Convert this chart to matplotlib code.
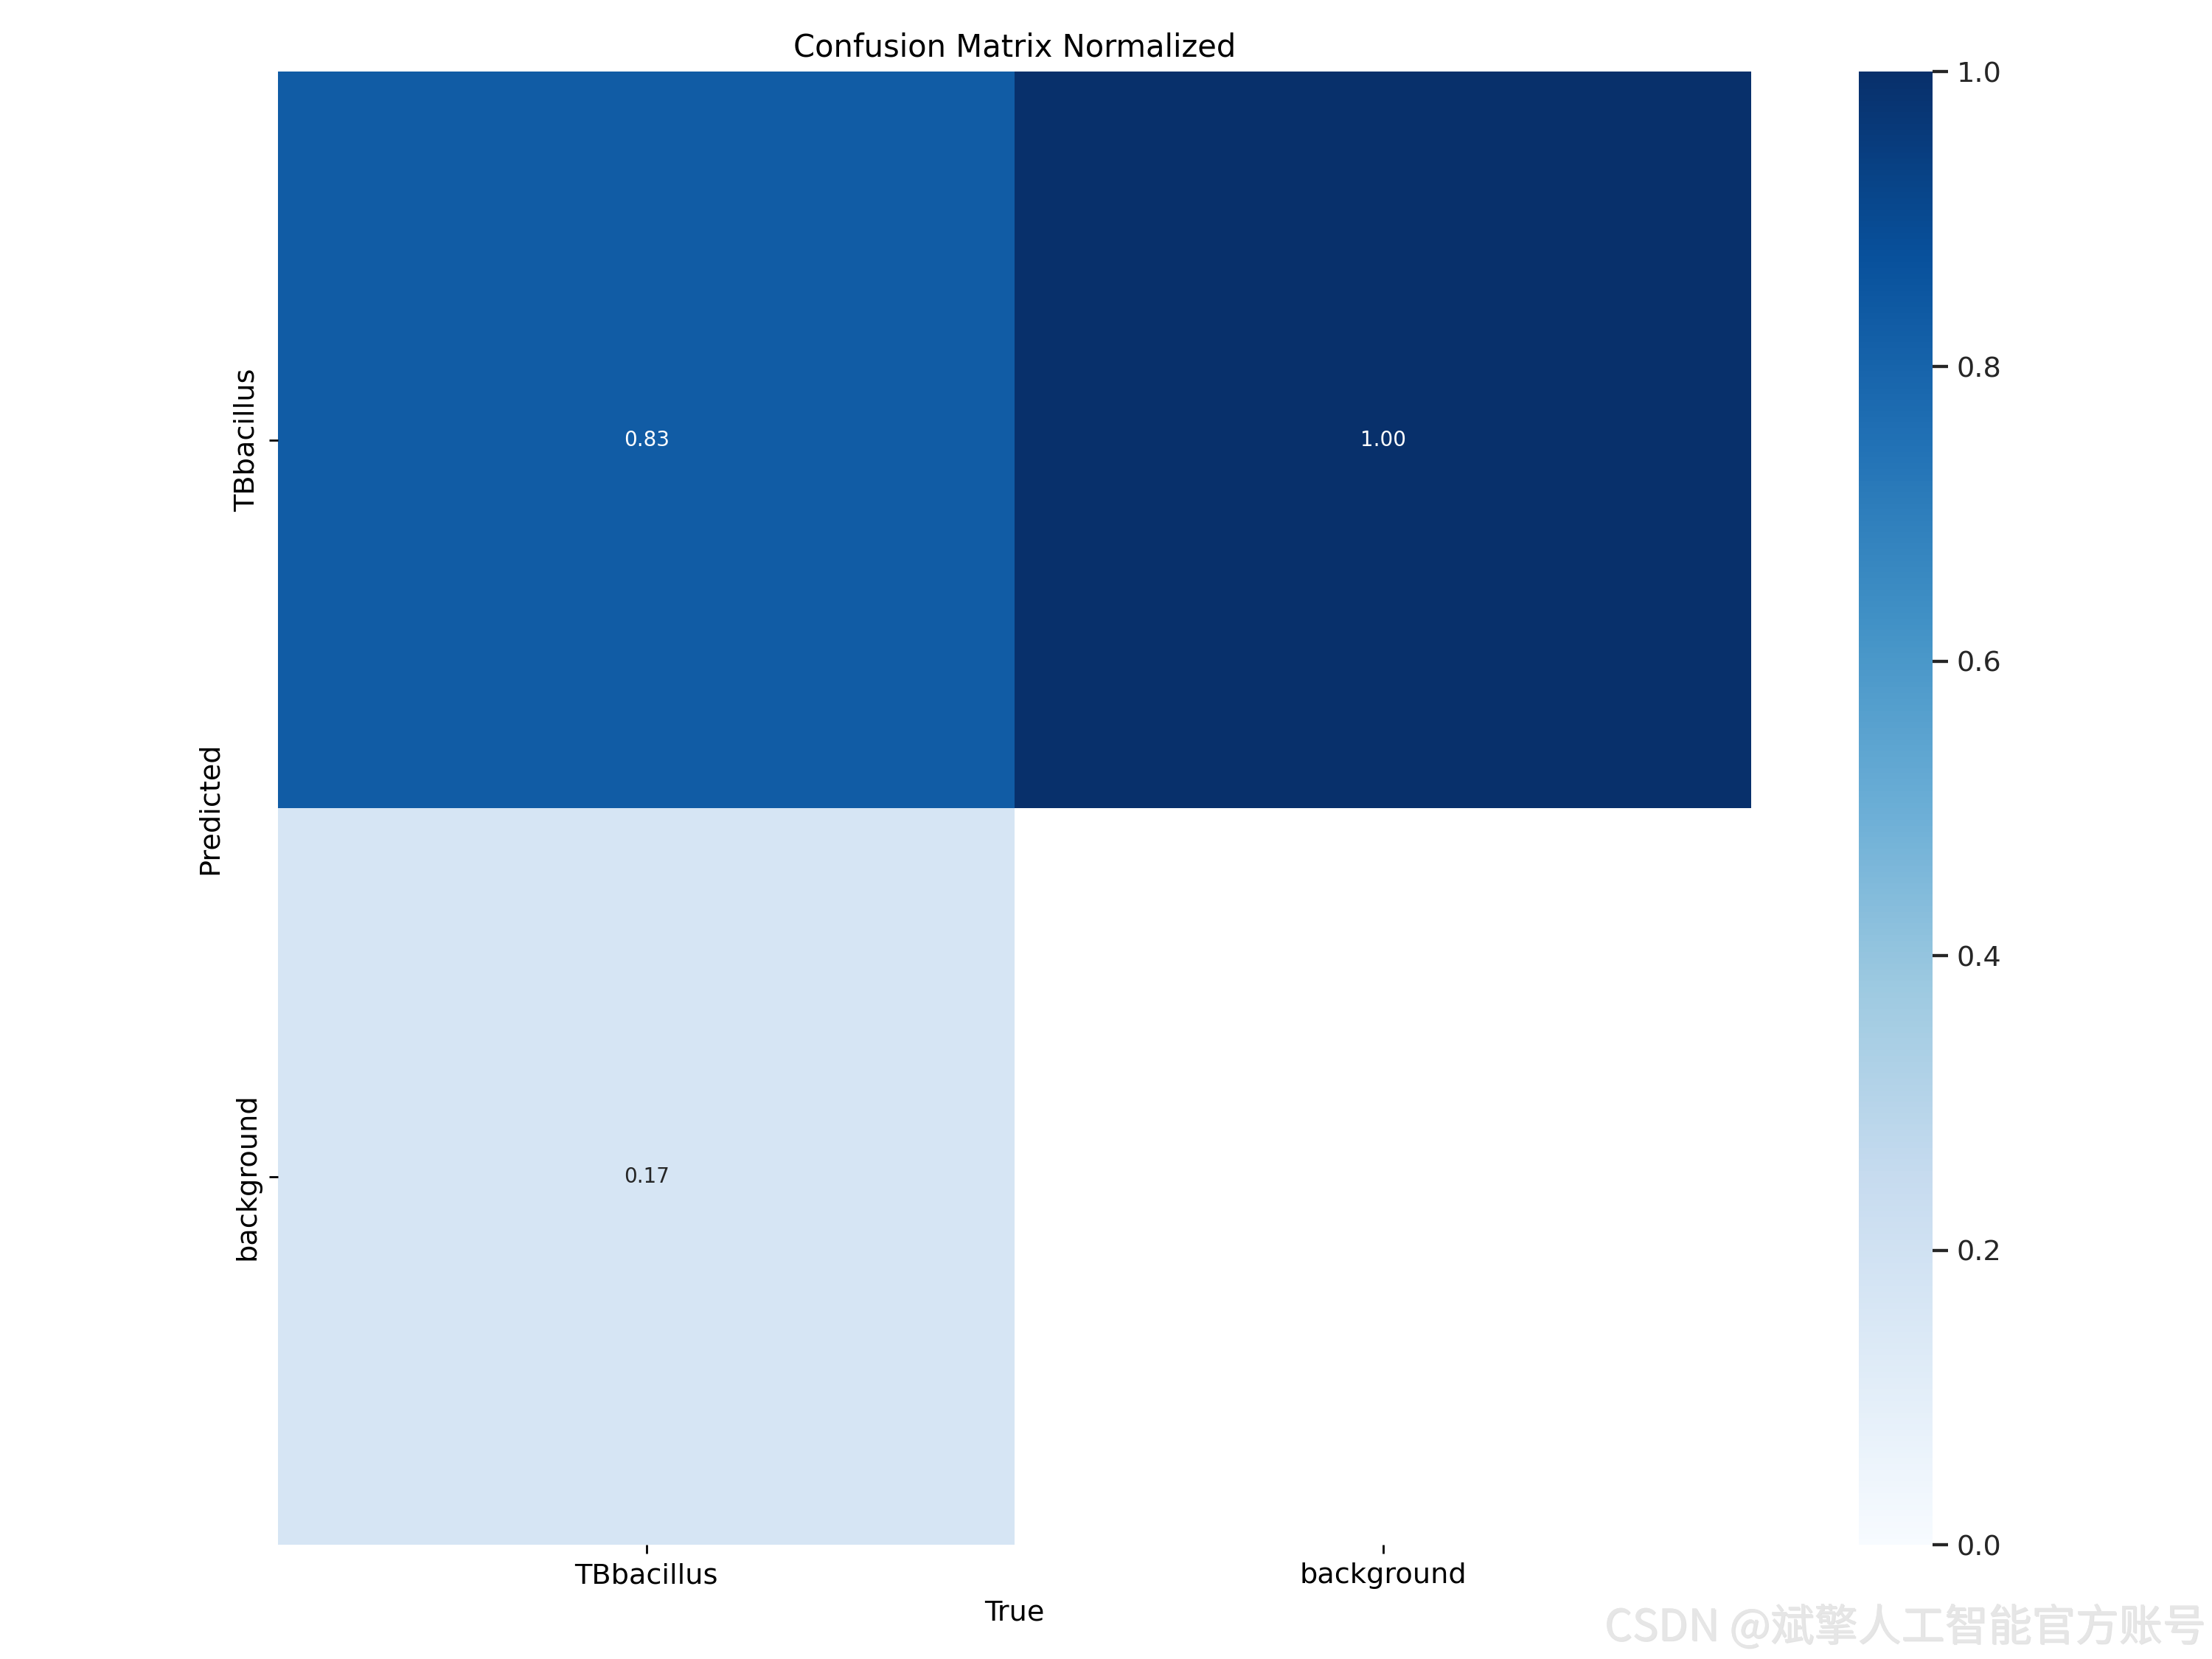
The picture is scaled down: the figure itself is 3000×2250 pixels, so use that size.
import numpy as np
import matplotlib
matplotlib.use("Agg")
import matplotlib.pyplot as plt
import matplotlib.patheffects as pe
import seaborn as sns

names = ["TBbacillus", "background"]
# rows: Predicted, columns: True
matrix = np.array([[0.83, 1.00],
                   [0.17, 0.00]])

array = matrix.copy()
array[array < 0.005] = np.nan

plt.rcParams["xtick.labelsize"] = 11
plt.rcParams["ytick.labelsize"] = 11

fig, ax = plt.subplots(1, 1, figsize=(12, 9))
sns.heatmap(array, ax=ax, annot=True, annot_kws={"size": 8}, cmap="Blues",
            fmt=".2f", square=True, vmin=0.0, vmax=1.0,
            xticklabels=names, yticklabels=names).set_facecolor((1, 1, 1))
ax.set_xlabel("True", fontsize=11)
ax.set_ylabel("Predicted", fontsize=11)
ax.set_title("Confusion Matrix Normalized", fontsize=12)

cbar = ax.collections[0].colorbar
cbar.ax.tick_params(length=6, width=1.25, color="#262626",
                    labelcolor="#262626", labelsize=11)

fig.tight_layout(pad=1.2)

fig.text(0.997, 0.005, "CSDN @斌擎人工智能官方账号", ha="right", va="bottom",
         fontsize=17, color="#e6e6e6",
         family=["Noto Sans CJK SC", "DejaVu Sans"],
         path_effects=[pe.withSimplePatchShadow(offset=(0.4, -0.4),
                                                shadow_rgbFace="#c8c8c8",
                                                alpha=0.5),
                       pe.Normal()])

fig.savefig("out.png", dpi=250)
